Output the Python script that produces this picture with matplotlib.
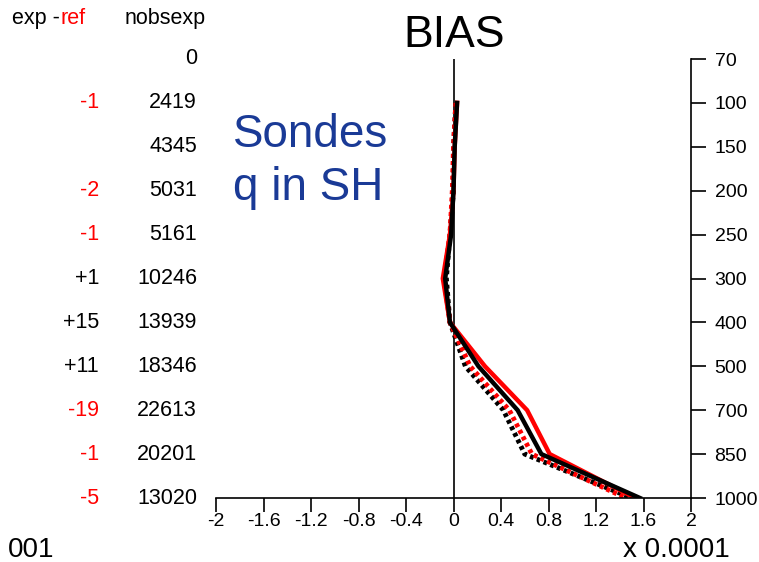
import matplotlib
matplotlib.use('Agg')
import matplotlib.pyplot as plt
import matplotlib.transforms as mtransforms
import numpy as np

# pressure levels (hPa), top to bottom
levels = [70, 100, 150, 200, 250, 300, 400, 500, 700, 850, 1000]
nobs_exp = [0, 2419, 4345, 5031, 5161, 10246, 13939, 18346, 22613, 20201, 13020]
diff_exp_ref = [0, -1, 0, -2, -1, 1, 15, 11, -19, -1, -5]

# bias values in units of 1e-4
exp_bias = [np.nan, 0.03, 0.01, 0.0, -0.02, -0.07, -0.03, 0.21, 0.54, 0.74, 1.57]
ref_bias = [np.nan, 0.03, 0.01, 0.0, -0.03, -0.09, -0.03, 0.265, 0.62, 0.81, 1.53]
exp_bias2 = [np.nan, 0.02, 0.0, 0.0, -0.03, -0.06, -0.03, 0.10, 0.42, 0.60, 1.50]
ref_bias2 = [np.nan, 0.02, 0.0, -0.01, -0.03, -0.08, -0.03, 0.14, 0.47, 0.66, 1.45]

xticks = [-2, -1.6, -1.2, -0.8, -0.4, 0, 0.4, 0.8, 1.2, 1.6, 2]

W, H = 759, 562
fig = plt.figure(figsize=(W / 100, H / 100), dpi=100)
ax = fig.add_axes([216 / W, 1 - 498 / H, (691 - 216) / W, (498 - 59) / H])

ypos = np.arange(len(levels))

dots = (0, (0.8, 0.7))
ax.plot(exp_bias2, ypos, color='black', lw=3.5, ls=dots)
ax.plot(ref_bias2, ypos, color='red', lw=3.5, ls=dots)
ax.plot(ref_bias, ypos, color='red', lw=3.2)
ax.plot(exp_bias, ypos, color='black', lw=3.2)

ax.axvline(0, color='black', lw=1.2, zorder=1)

ax.set_xlim(-2, 2)
ax.set_ylim(len(levels) - 1, 0)

for s in ['left', 'top']:
    ax.spines[s].set_visible(False)
ax.spines['right'].set_linewidth(1.2)
ax.spines['bottom'].set_linewidth(1.2)

tick_font = dict(family='Liberation Sans', size=14)
ax.set_xticks(xticks)
ax.set_xticklabels([('%g' % t) for t in xticks], **tick_font)
ax.set_yticks(ypos)
ax.set_yticklabels([str(l) for l in levels], **tick_font)
ax.yaxis.tick_right()
ax.tick_params(axis='y', direction='out', length=11, width=1.2, pad=6)
ax.tick_params(axis='x', direction='out', length=10, width=1.2, pad=1)

# number columns on the left
tr = mtransforms.blended_transform_factory(fig.transFigure, ax.transData)
col_font = dict(family='Liberation Sans', size=15.5)
for i, (n, d) in enumerate(zip(nobs_exp, diff_exp_ref)):
    ax.text(197 / W, i, str(n), transform=tr, ha='right', va='center',
            clip_on=False, **col_font)
    if d != 0:
        ax.text(99 / W, i, '%+d' % d, transform=tr, ha='right', va='center',
                color='red' if d < 0 else 'black', clip_on=False, **col_font)

hdr = dict(family='Liberation Sans', size=15.5)
fig.text(12 / W, 1 - 24 / H, 'exp -', ha='left', va='baseline', **hdr)
fig.text(61 / W, 1 - 24 / H, 'ref', ha='left', va='baseline', color='red', **hdr)
fig.text(125 / W, 1 - 24 / H, 'nobsexp', ha='left', va='baseline', **hdr)

fig.text(454 / W, 1 - 47 / H, 'BIAS', ha='center', va='baseline',
         family='Liberation Sans', size=32)
fig.text(233 / W, 1 - 147 / H, 'Sondes', ha='left', va='baseline',
         family='Liberation Sans', size=33, color='#1a3a96')
fig.text(233 / W, 1 - 200 / H, 'q in SH', ha='left', va='baseline',
         family='Liberation Sans', size=33, color='#1a3a96')

fig.text(8 / W, 1 - 557 / H, '001', ha='left', va='baseline',
         family='Liberation Sans', size=20)
fig.text(730 / W, 1 - 557 / H, 'x 0.0001', ha='right', va='baseline',
         family='Liberation Sans', size=20)

fig.savefig('out.png', dpi=100)
